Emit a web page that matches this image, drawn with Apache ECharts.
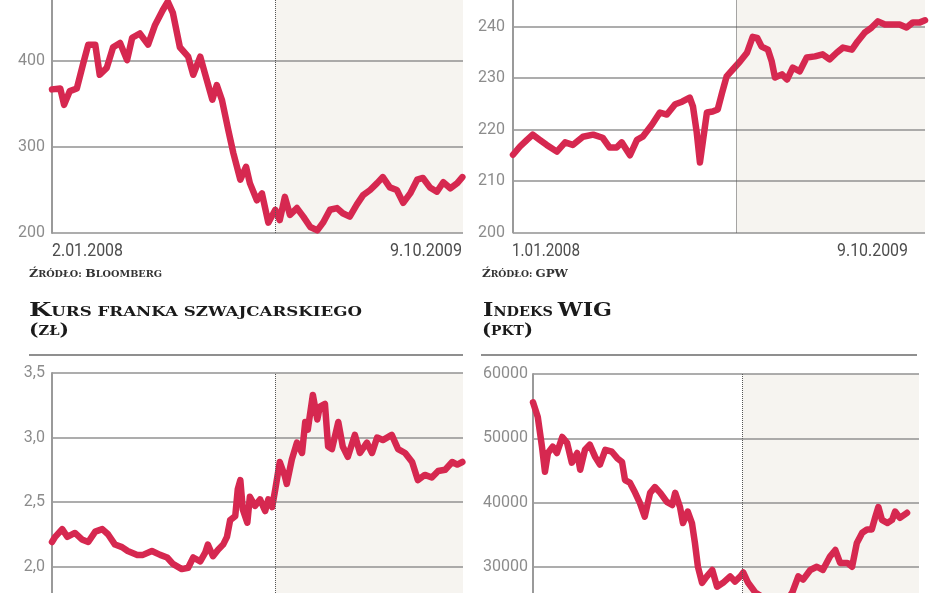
<!DOCTYPE html>
<html><head><meta charset="utf-8">
<script src="https://cdn.jsdelivr.net/npm/echarts@6/dist/echarts.min.js"></script>
<style>html,body{margin:0;padding:0;background:#fff}#c{width:948px;height:593px}</style>
</head><body><div id="c"></div>
<script>
// ---------- DATA (x = days since the first quote, y = value) ----------
const daysA = [0,13,19,28,39,49,57,68,75,86,96,107,118,126,138,151,162,174,182,190,201,214,222,233,241,252,259,267,277,285,296,305,311,322,330,340,351,358,366,374,385,395,406,417,426,437,448,457,468,479,489,500,511,520,531,542,552,563,574,583,594,605,615,626,637,645];
const valsA = [367,368,349,365,368,397,419,419,384,392,416,421,401,427,432,419,442,459,469,456,416,405,384,405,384,355,372,355,320,293,262,277,258,238,246,212,227,215,242,221,229,219,207,203,212,227,229,223,219,233,244,250,258,265,253,250,235,246,262,264,253,248,259,252,258,265];

const daysB = [0,11,22,31,42,53,69,82,94,110,126,141,152,163,171,184,195,204,219,231,242,255,266,278,283,289,294,299,305,314,322,329,336,346,357,368,377,384,391,401,407,412,423,431,440,451,462,475,487,498,509,519,533,542,553,564,574,585,596,608,619,629,640,648];
const valsB = [215.1,216.7,218,219,218,217,215.7,217.5,217,218.6,219,218.4,216.5,216.5,217.5,215,218,218.6,221,223.3,222.9,224.9,225.4,226.2,224.5,219.4,213.6,218,223.3,223.5,223.9,227.2,230.3,231.7,233.2,234.9,238,237.8,236.1,235.5,233.2,230.1,230.7,229.7,232,231.3,234,234.2,234.6,233.6,234.9,235.9,235.5,237.1,238.8,239.8,241,240.4,240.4,240.4,239.8,240.8,240.8,241.2];

const daysC = [0,5,16,24,36,47,57,68,79,88,99,110,119,134,143,157,170,181,190,204,214,222,233,241,245,253,261,269,275,280,288,292,296,300,307,311,319,327,335,340,346,351,358,366,369,377,385,393,398,402,410,417,421,429,434,440,450,457,465,476,484,495,503,511,520,534,544,555,566,575,586,597,607,618,629,637,645];
const valsC = [2.19,2.23,2.29,2.23,2.26,2.21,2.19,2.27,2.29,2.25,2.17,2.15,2.12,2.09,2.09,2.12,2.09,2.07,2.02,1.98,1.99,2.07,2.04,2.11,2.17,2.08,2.13,2.17,2.23,2.36,2.39,2.60,2.67,2.44,2.34,2.54,2.47,2.52,2.43,2.52,2.46,2.60,2.81,2.70,2.64,2.83,2.96,2.88,3.12,3.06,3.33,3.14,3.24,3.26,2.93,2.91,3.12,2.93,2.85,3.02,2.88,2.96,2.88,3.00,2.98,3.02,2.91,2.88,2.81,2.67,2.71,2.69,2.74,2.75,2.81,2.79,2.81];

const daysD = [0,8,15,20,25,33,40,49,57,65,74,79,87,95,104,112,121,132,141,149,154,162,171,179,187,196,204,213,224,233,238,246,251,259,266,271,276,283,291,300,308,318,330,338,347,352,360,372,397,419,434,444,452,464,475,485,497,506,514,526,534,542,551,559,567,573,578,584,593,601,606,614,626];
const valsD = [55600,53300,48700,44800,47700,48700,47700,50200,49300,46200,47700,45100,48200,49000,47100,45900,48200,47900,46900,46300,43500,43100,41500,39900,37800,41500,42400,41500,40100,39600,41500,39300,36800,38600,36800,33700,30000,27500,28500,29500,26900,27500,28500,27700,28500,29100,27500,26000,24500,24000,26000,28500,28000,29500,30000,29500,31600,32600,30600,30600,30000,33700,35300,35800,35800,37800,39300,37300,36800,37300,38600,37600,38400];

// dividing day (turn of the year) and the span of each panel's time axis
const dividerDay = 351;
const spanA = 646, spanB = 648, spanC = 646, spanD = 646;

// y-axis scales (min, max, step)
const yScaleA = [200, 500, 100];
const yScaleB = [200, 250, 10];
const yScaleC = [1.5, 3.5, 0.5];
const yScaleD = [20000, 60000, 10000];

// texts
const dateLabelsA = ['2.01.2008', '9.10.2009'];
const dateLabelsB = ['1.01.2008', '9.10.2009'];
const sourceA = 'Źródło: Bloomberg';
const sourceB = 'Źródło: GPW';
const titleC = 'Kurs franka szwajcarskiego', unitC = '(zł)';
const titleD = 'Indeks WIG', unitD = '(pkt)';

// ---------- STYLE / LAYOUT ----------
const RED = '#d62850';
const GRID_COL = '#929292';
const SHADE = '#f6f4f0';
const NUM_FONT = 'Roboto, "Liberation Sans", sans-serif';
const SERIF = '"DejaVu Serif",serif';

const grids = [
  {left: 52,  top: -25, width: 411, height: 258},
  {left: 513, top: -25, width: 412, height: 257.5},
  {left: 52,  top: 373, width: 411, height: 258},
  {left: 533, top: 374, width: 386, height: 257}
];
const spans = [spanA, spanB, spanC, spanD];
const scales = [yScaleA, yScaleB, yScaleC, yScaleD];
const labelMargins = [7, 8, 7, 5];
const seriesData = [[daysA, valsA], [daysB, valsB], [daysC, valsC], [daysD, valsD]];

const xAxes = grids.map((g, i) => ({
  type: 'value', gridIndex: i, min: 0, max: spans[i], z: 2,
  axisLine: {show: false}, axisTick: {show: false}, axisLabel: {show: false}, splitLine: {show: false}
}));
const yAxes = grids.map((g, i) => ({
  type: 'value', gridIndex: i, min: scales[i][0], max: scales[i][1], interval: scales[i][2], z: 2,
  axisLine: {show: true, lineStyle: {color: '#9a9a9a', width: 2}},
  axisTick: {show: false},
  splitLine: {show: true, lineStyle: {color: GRID_COL, width: 1.5}},
  axisLabel: {
    margin: labelMargins[i], color: '#8c8c8c', fontSize: 16, fontFamily: NUM_FONT,
    formatter: v => i === 2 ? v.toFixed(1).replace('.', ',') : String(v)
  }
}));

const series = [];
seriesData.forEach(([d, v], i) => {
  // background: shaded second period + dotted divider
  series.push({
    type: 'line', xAxisIndex: i, yAxisIndex: i, data: [], z: 1, silent: true,
    markArea: {silent: true, itemStyle: {color: SHADE}, data: [[{xAxis: dividerDay}, {xAxis: spans[i]}]]},
    markLine: {silent: true, symbol: 'none', label: {show: false},
      lineStyle: {type: 'dotted', color: '#555', width: 1}, data: [{xAxis: dividerDay}]}
  });
  series.push({
    type: 'line', xAxisIndex: i, yAxisIndex: i, z: 3, showSymbol: false, symbol: 'none',
    lineStyle: {color: RED, width: 6.5, join: 'round', cap: 'round'},
    data: d.map((x, k) => [x, v[k]])
  });
});

// ---------- text helpers ----------
const meas = document.createElement('canvas').getContext('2d');
function textW(str, font) { meas.font = font; return meas.measureText(str).width; }
function runsOf(text) {
  const runs = [];
  for (const ch of text) {
    const big = (ch !== ch.toLowerCase()) || ch === '(' || ch === ')';
    const t = ch.toUpperCase();
    if (runs.length && runs[runs.length - 1].big === big) runs[runs.length - 1].t += t;
    else runs.push({t, big});
  }
  return runs;
}
function smallCaps(text, x, baseline, bigSize, smallSize, width, color) {
  const runs = runsOf(text);
  const fonts = runs.map(r => `bold ${r.big ? bigSize : smallSize}px ${SERIF}`);
  const ws = runs.map((r, i) => textW(r.t, fonts[i]));
  const sx = width / ws.reduce((a, b) => a + b, 0);
  let cx = x;
  return runs.map((r, i) => {
    const s = r.big ? bigSize : smallSize;
    const el = {type: 'text', x: cx, y: baseline - 0.32 * s, scaleX: sx, silent: true, z: 10,
      style: {text: r.t, font: fonts[i], fill: color, textAlign: 'left', align: 'left',
              textVerticalAlign: 'middle', verticalAlign: 'middle'}};
    cx += ws[i] * sx;
    return el;
  });
}
function dateText(text, x, y, align, width) {
  const font = `18px ${NUM_FONT}`;
  const sx = width / textW(text, font);
  return {type: 'text', x, y, scaleX: sx, silent: true, z: 10,
    style: {text, font, fill: '#4d4d4d', textAlign: align, align,
            textVerticalAlign: 'middle', verticalAlign: 'middle'}};
}

const graphic = [
  dateText(dateLabelsA[0], 52, 251, 'left', 71),
  dateText(dateLabelsA[1], 462, 251, 'right', 72),
  dateText(dateLabelsB[0], 512, 251, 'left', 68),
  dateText(dateLabelsB[1], 908, 251, 'right', 71),
  ...smallCaps(sourceA, 29, 278, 11, 8.5, 133, '#333'),
  ...smallCaps(sourceB, 482, 278, 11, 8.5, 86, '#333'),
  ...smallCaps(titleC, 29, 317, 19, 12.3, 333, '#1a1a1a'),
  ...smallCaps(unitC, 29, 336, 17, 12.3, 40, '#1a1a1a'),
  ...smallCaps(titleD, 483, 317, 19, 12.3, 129, '#1a1a1a'),
  ...smallCaps(unitD, 482, 336, 17, 12.3, 51, '#1a1a1a'),
  {type: 'line', silent: true, z: 10, shape: {x1: 29, y1: 355, x2: 463, y2: 355}, style: {stroke: '#6a6a6a', lineWidth: 1.5}},
  {type: 'line', silent: true, z: 10, shape: {x1: 481, y1: 355, x2: 917, y2: 355}, style: {stroke: '#6a6a6a', lineWidth: 1.5}}
];

const chart = echarts.init(document.getElementById('c'), null, {renderer: 'canvas'});
chart.setOption({
  animation: false,
  backgroundColor: '#fff',
  grid: grids.map(g => Object.assign({containLabel: false, outerBoundsMode: 'none'}, g)),
  xAxis: xAxes,
  yAxis: yAxes,
  series,
  graphic
});
</script></body></html>
